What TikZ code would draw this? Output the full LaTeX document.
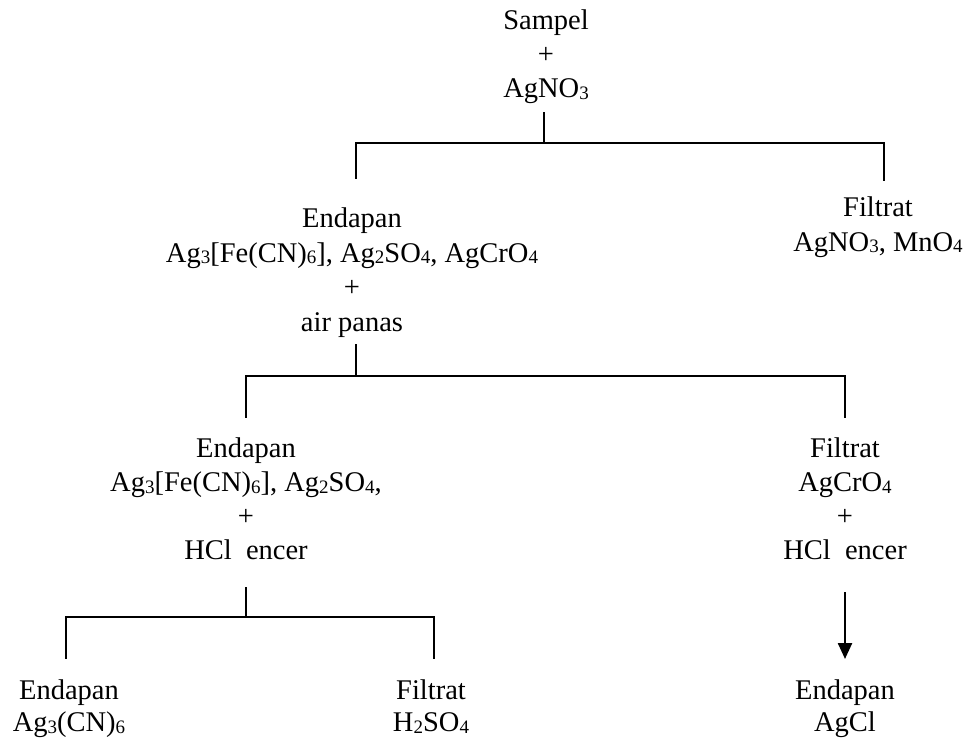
\documentclass[tikz,border=0pt]{standalone}
\usepackage{fontspec}
\setmainfont{Liberation Serif}
\usetikzlibrary{arrows.meta}
\newcommand{\sbs}[1]{\raisebox{-0.07em}{\fontsize{19}{19}\selectfont #1}}
\begin{document}
\begin{tikzpicture}[x=1pt,y=-1pt,
  txt/.style={anchor=base,inner sep=0pt,font=\fontsize{28.5}{34}\selectfont},
  conn/.style={line width=2.4pt,line cap=rect},
  arr/.style={line width=2.4pt,-{Triangle[length=16pt,width=14pt]}}]
\useasboundingbox (0,0) rectangle (968,738);
% level 1
\node[txt] (s1) at (546,30) {Sampel};
\node[txt] (s2) at (546,64) {+};
\node[txt] (s3) at (546,98) {AgNO\sbs{3}};
% level 2 left
\node[txt] (a1) at (352,227) {Endapan};
\node[txt] (a2) at (352,262) {Ag\sbs{3}[Fe(CN)\sbs{6}], Ag\sbs{2}SO\sbs{4}, AgCrO\sbs{4}};
\node[txt] (a3) at (352,296) {+};
\node[txt] (a4) at (352,331) {air panas};
% level 2 right
\node[txt] (b1) at (878,216) {Filtrat};
\node[txt] (b2) at (878,251) {AgNO\sbs{3}, MnO\sbs{4}};
% level 3 left
\node[txt] (c1) at (246,457) {Endapan};
\node[txt] (c2) at (246,491) {Ag\sbs{3}[Fe(CN)\sbs{6}], Ag\sbs{2}SO\sbs{4},};
\node[txt] (c3) at (246,525) {+};
\node[txt] (c4) at (246,559) {HCl\ \ encer};
% level 3 right
\node[txt] (d1) at (845,457) {Filtrat};
\node[txt] (d2) at (845,491) {AgCrO\sbs{4}};
\node[txt] (d3) at (845,525) {+};
\node[txt] (d4) at (845,559) {HCl\ \ encer};
% level 4
\node[txt] (e1) at (69,699) {Endapan};
\node[txt] (e2) at (69,731) {Ag\sbs{3}(CN)\sbs{6}};
\node[txt] (f1) at (431,699) {Filtrat};
\node[txt] (f2) at (431,731) {H\sbs{2}SO\sbs{4}};
\node[txt] (g1) at (845,699) {Endapan};
\node[txt] (g2) at (845,731) {AgCl};
% connector points
\coordinate (p1) at (544,113);
\coordinate (p1b) at (544,143);
\coordinate (p1l) at (356,143);
\coordinate (p1r) at (884,143);
\coordinate (p1le) at (356,178);
\coordinate (p1re) at (884,180);
\coordinate (p2) at (356,345);
\coordinate (p2b) at (356,376);
\coordinate (p2l) at (246,376);
\coordinate (p2r) at (845,376);
\coordinate (p2le) at (246,417);
\coordinate (p2re) at (845,417);
\coordinate (p3) at (246,588);
\coordinate (p3b) at (246,617);
\coordinate (p3l) at (66,617);
\coordinate (p3r) at (434,617);
\coordinate (p3le) at (66,658);
\coordinate (p3re) at (434,658);
\coordinate (q1) at (845,592);
\coordinate (q2) at (845,659);
\draw[conn] (p1) -- (p1b);
\draw[conn] (p1le) -- (p1l) -- (p1r) -- (p1re);
\draw[conn] (p2) -- (p2b);
\draw[conn] (p2le) -- (p2l) -- (p2r) -- (p2re);
\draw[conn] (p3) -- (p3b);
\draw[conn] (p3le) -- (p3l) -- (p3r) -- (p3re);
\draw[arr] (q1) -- (q2);
\end{tikzpicture}
\end{document}
